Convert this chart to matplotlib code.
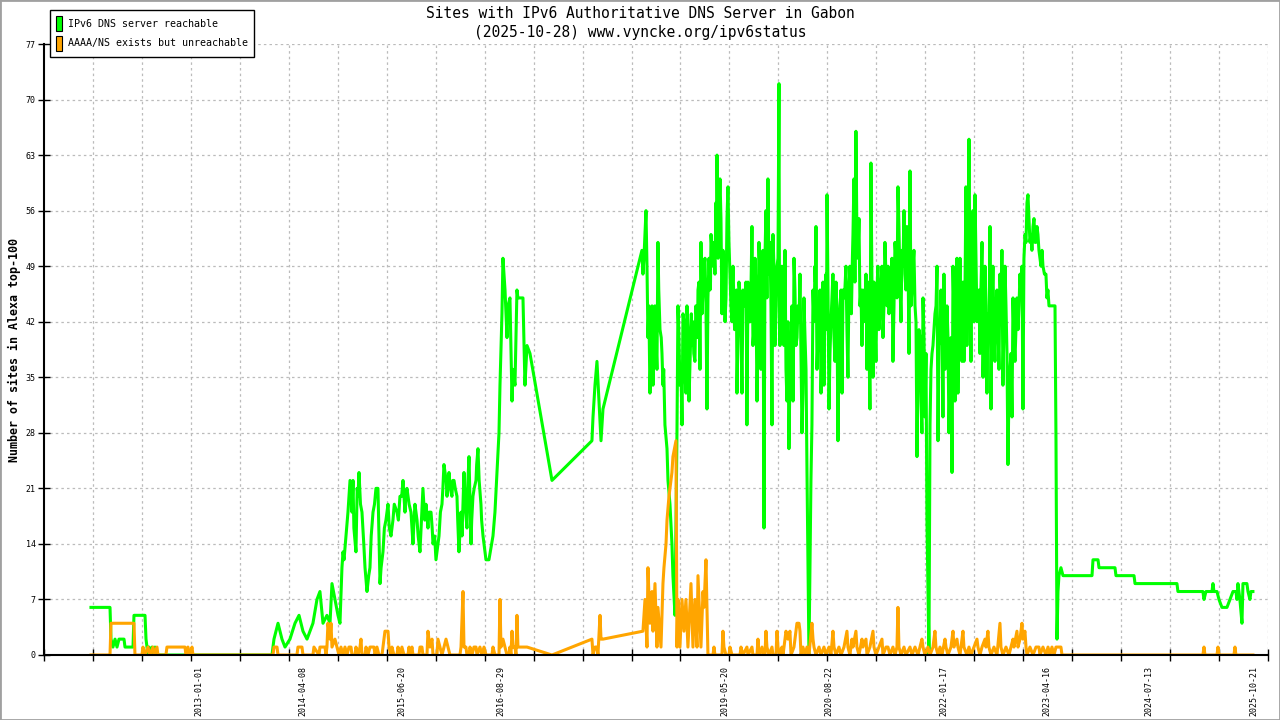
import datetime as dt
import numpy as np
import matplotlib
matplotlib.use('Agg')
from matplotlib import pyplot as plt
from matplotlib.patches import Patch, Rectangle

# (decimal year, number of sites)
green_2011_2017 = [
    (2011.689, 6), (2011.920, 6), (2011.932, 2), (2011.956, 1), (2011.981, 2), (2012.005, 1),
    (2012.029, 2), (2012.090, 2), (2012.102, 1), (2012.199, 1), (2012.211, 5), (2012.345, 5),
    (2012.357, 2), (2012.369, 1), (2012.381, 0), (2012.393, 1), (2012.417, 0), (2012.430, 1),
    (2012.454, 0), (2012.466, 1), (2012.478, 0), (2013.862, 0), (2013.886, 0), (2013.910, 2),
    (2013.959, 4), (2014.007, 2), (2014.044, 1), (2014.104, 2), (2014.165, 4), (2014.214, 5),
    (2014.262, 3), (2014.311, 2), (2014.347, 3), (2014.383, 4), (2014.432, 7), (2014.468, 8),
    (2014.505, 4), (2014.553, 5), (2014.590, 4), (2014.614, 9), (2014.650, 7), (2014.687, 5),
    (2014.711, 4), (2014.735, 11), (2014.748, 13), (2014.784, 15), (2014.808, 18), (2014.833, 22),
    (2014.857, 18), (2014.869, 22), (2014.905, 13), (2014.930, 20), (2014.942, 23), (2014.978, 18),
    (2015.015, 11), (2015.039, 8), (2015.075, 11), (2015.112, 18), (2015.148, 21), (2015.172, 21),
    (2015.197, 9), (2015.233, 13), (2015.269, 17), (2015.294, 19), (2015.330, 15), (2015.354, 17),
    (2015.403, 18), (2015.439, 20), (2015.476, 22), (2015.500, 18), (2015.524, 21), (2015.573, 18),
    (2015.597, 14), (2015.621, 19), (2015.646, 17), (2015.682, 13), (2015.718, 21), (2015.755, 19),
    (2015.779, 16), (2015.816, 18), (2015.840, 14), (2015.876, 12), (2015.913, 15), (2015.949, 19),
    (2015.973, 24), (2016.010, 20), (2016.034, 23), (2016.070, 20), (2016.095, 22), (2016.131, 20),
    (2016.155, 13), (2016.192, 15), (2016.216, 23), (2016.252, 16), (2016.277, 25), (2016.301, 14),
    (2016.325, 20), (2016.362, 22), (2016.386, 26), (2016.422, 19), (2016.447, 15), (2016.483, 12),
    (2016.519, 12), (2016.568, 15), (2016.592, 18), (2016.617, 23), (2016.641, 28), (2016.653, 34),
    (2016.677, 43), (2016.689, 50), (2016.714, 46), (2016.738, 40), (2016.750, 44), (2016.774, 45),
    (2016.799, 32), (2016.811, 36), (2016.835, 34), (2016.859, 46), (2016.871, 45), (2016.932, 45),
    (2016.956, 34), (2016.981, 39), (2017.017, 38), (2017.284, 22), (2017.769, 27), (2017.782, 30),
    (2017.806, 34), (2017.830, 37), (2017.854, 32), (2017.879, 27), (2017.903, 31),
]

# extra in-between readings for the busier 2014-2016 stretch
green_2014_2016_fill = [
    (2014.76, 12), (2014.82, 20), (2014.88, 16), (2014.92, 21), (2014.96, 19), (2015.00, 14),
    (2015.06, 10), (2015.09, 15), (2015.13, 19), (2015.21, 11), (2015.25, 16), (2015.31, 16),
    (2015.37, 19), (2015.42, 17), (2015.46, 20), (2015.51, 20), (2015.55, 19), (2015.61, 17),
    (2015.66, 15), (2015.70, 17), (2015.74, 17), (2015.79, 18), (2015.83, 16), (2015.86, 15),
    (2015.90, 14), (2015.93, 18), (2015.96, 21), (2016.00, 22), (2016.05, 21), (2016.08, 22),
    (2016.11, 21), (2016.14, 17), (2016.18, 18), (2016.23, 19), (2016.26, 21), (2016.29, 19),
    (2016.31, 17), (2016.34, 21), (2016.37, 24), (2016.40, 22), (2016.43, 17),
]

green_2018_2023 = [
    (2018.376, 51), (2018.388, 48), (2018.425, 56), (2018.437, 49), (2018.449, 40), (2018.473, 33),
    (2018.498, 44), (2018.510, 34), (2018.534, 44), (2018.558, 36), (2018.570, 52), (2018.595, 41),
    (2018.619, 38), (2018.631, 34), (2018.655, 29), (2018.680, 26), (2018.692, 22), (2018.716, 19),
    (2018.740, 14), (2018.752, 10), (2018.777, 5), (2018.801, 28), (2018.813, 44), (2018.837, 34),
    (2018.862, 29), (2018.874, 43), (2018.910, 33), (2018.922, 44), (2018.947, 32), (2018.983, 39),
    (2018.995, 42), (2019.019, 37), (2019.044, 42), (2019.056, 46), (2019.080, 36), (2019.092, 52),
    (2019.117, 46), (2019.141, 50), (2019.165, 31), (2019.177, 45), (2019.202, 46), (2019.214, 53),
    (2019.238, 49), (2019.250, 52), (2019.274, 57), (2019.287, 63), (2019.311, 56), (2019.323, 60),
    (2019.347, 43), (2019.359, 51), (2019.384, 42), (2019.408, 55), (2019.420, 59), (2019.444, 48),
    (2019.469, 42), (2019.481, 49), (2019.517, 44), (2019.529, 33), (2019.553, 47), (2019.590, 33),
    (2019.602, 46), (2019.638, 47), (2019.650, 29), (2019.675, 42), (2019.711, 54), (2019.723, 39),
    (2019.748, 50), (2019.772, 32), (2019.796, 52), (2019.820, 36), (2019.845, 51), (2019.857, 16),
    (2019.881, 56), (2019.905, 60), (2019.918, 48), (2019.954, 29), (2019.966, 53), (2019.990, 39),
    (2020.015, 49), (2020.039, 72), (2020.051, 39), (2020.075, 49), (2020.100, 39), (2020.112, 51),
    (2020.136, 32), (2020.160, 26), (2020.185, 38), (2020.209, 32), (2020.221, 50), (2020.245, 39),
    (2020.270, 44), (2020.294, 48), (2020.318, 28), (2020.330, 33), (2020.342, 45), (2020.367, 36),
    (2020.379, 23), (2020.403, 0), (2020.427, 22), (2020.439, 29), (2020.452, 46), (2020.476, 49),
    (2020.488, 54), (2020.500, 36), (2020.525, 44), (2020.549, 33), (2020.573, 47), (2020.585, 34),
    (2020.610, 48), (2020.622, 58), (2020.646, 31), (2020.670, 42), (2020.694, 48), (2020.719, 37),
    (2020.743, 43), (2020.755, 27), (2020.779, 44), (2020.804, 33), (2020.816, 46), (2020.852, 49),
    (2020.876, 35), (2020.900, 49), (2020.937, 53), (2020.949, 60), (2020.973, 66), (2020.985, 53),
    (2021.010, 55), (2021.022, 44), (2021.046, 39), (2021.058, 46), (2021.083, 43), (2021.107, 36),
    (2021.119, 47), (2021.143, 31), (2021.155, 62), (2021.180, 35), (2021.192, 47), (2021.216, 37),
    (2021.240, 49), (2021.265, 43), (2021.289, 49), (2021.301, 40), (2021.325, 52), (2021.350, 44),
    (2021.362, 49), (2021.386, 45), (2021.410, 50), (2021.422, 37), (2021.447, 52), (2021.471, 45),
    (2021.483, 59), (2021.495, 54), (2021.520, 42), (2021.544, 49), (2021.556, 56), (2021.580, 46),
    (2021.592, 54), (2021.617, 38), (2021.629, 61), (2021.653, 46), (2021.677, 51), (2021.702, 42),
    (2021.714, 25), (2021.738, 41), (2021.762, 32), (2021.774, 28), (2021.787, 45), (2021.811, 30),
    (2021.823, 38), (2021.835, 17), (2021.859, 0), (2021.872, 29), (2021.896, 38), (2021.908, 39),
    (2021.932, 43), (2021.957, 49), (2021.969, 27), (2021.981, 39), (2022.005, 46), (2022.029, 30),
    (2022.041, 48), (2022.066, 38), (2022.078, 44), (2022.102, 28), (2022.139, 23), (2022.151, 49),
    (2022.175, 32), (2022.199, 50), (2022.211, 33), (2022.236, 50), (2022.260, 37), (2022.272, 47),
    (2022.284, 37), (2022.308, 59), (2022.320, 39), (2022.345, 65), (2022.357, 47), (2022.369, 37),
    (2022.393, 56), (2022.405, 42), (2022.418, 58), (2022.442, 42), (2022.466, 46), (2022.478, 38),
    (2022.503, 52), (2022.515, 35), (2022.539, 49), (2022.563, 33), (2022.575, 43), (2022.600, 54),
    (2022.612, 31), (2022.636, 49), (2022.660, 37), (2022.685, 46), (2022.709, 36), (2022.721, 48),
    (2022.745, 51), (2022.757, 34), (2022.782, 49), (2022.806, 38), (2022.818, 24), (2022.842, 36),
    (2022.867, 30), (2022.879, 45), (2022.903, 37), (2022.927, 45), (2022.940, 41), (2022.964, 48),
    (2022.988, 49), (2023.000, 31), (2023.012, 50), (2023.037, 52), (2023.049, 57), (2023.061, 58),
    (2023.085, 52), (2023.109, 51), (2023.122, 54), (2023.146, 52), (2023.170, 54), (2023.194, 51),
    (2023.219, 49), (2023.243, 49), (2023.279, 48), (2023.291, 45), (2023.316, 44), (2023.389, 44),
    (2023.401, 27),
]

# extra in-between readings for the dense 2018-2023 band
green_2018_2023_fill = [
    (2018.400, 50), (2018.460, 44), (2018.485, 38), (2018.520, 42), (2018.545, 40), (2018.580, 46),
    (2018.610, 40), (2018.640, 36), (2018.825, 40), (2018.850, 36), (2018.887, 42), (2018.900, 35),
    (2018.935, 41), (2018.960, 37), (2018.975, 43), (2019.005, 38), (2019.030, 44), (2019.050, 40),
    (2019.068, 47), (2019.105, 43), (2019.129, 49), (2019.153, 44), (2019.190, 50), (2019.208, 47),
    (2019.226, 51), (2019.262, 48), (2019.280, 53), (2019.300, 50), (2019.335, 55), (2019.353, 47),
    (2019.372, 50), (2019.396, 45), (2019.432, 52), (2019.456, 44), (2019.475, 47), (2019.500, 41),
    (2019.523, 46), (2019.541, 40), (2019.571, 45), (2019.596, 39), (2019.620, 44), (2019.644, 40),
    (2019.663, 47), (2019.693, 42), (2019.717, 48), (2019.735, 41), (2019.760, 46), (2019.784, 40),
    (2019.808, 48), (2019.833, 42), (2019.869, 50), (2019.893, 45), (2019.930, 52), (2019.942, 44),
    (2019.978, 49), (2020.003, 43), (2020.027, 50), (2020.045, 44), (2020.063, 46), (2020.088, 41),
    (2020.106, 44), (2020.124, 36), (2020.148, 42), (2020.172, 35), (2020.197, 44), (2020.215, 38),
    (2020.233, 46), (2020.258, 40), (2020.282, 42), (2020.306, 38), (2020.355, 40), (2020.464, 42),
    (2020.482, 47), (2020.512, 40), (2020.537, 46), (2020.561, 39), (2020.597, 45), (2020.616, 41),
    (2020.634, 46), (2020.658, 38), (2020.682, 45), (2020.707, 40), (2020.731, 47), (2020.767, 39),
    (2020.792, 46), (2020.810, 40), (2020.834, 45), (2020.864, 41), (2020.888, 46), (2020.918, 43),
    (2020.930, 50), (2020.961, 47), (2020.997, 50), (2021.034, 46), (2021.070, 42), (2021.095, 48),
    (2021.131, 40), (2021.168, 46), (2021.204, 42), (2021.228, 46), (2021.252, 41), (2021.277, 47),
    (2021.313, 44), (2021.338, 48), (2021.374, 43), (2021.398, 47), (2021.435, 44), (2021.459, 50),
    (2021.507, 47), (2021.532, 51), (2021.568, 48), (2021.605, 50), (2021.641, 44), (2021.665, 49),
    (2021.690, 44), (2021.726, 36), (2021.750, 40), (2021.780, 34), (2021.799, 40), (2021.884, 36),
    (2021.920, 41), (2021.945, 44), (2021.993, 40), (2022.017, 42), (2022.054, 36), (2022.090, 40),
    (2022.115, 35), (2022.127, 40), (2022.163, 43), (2022.187, 40), (2022.224, 44), (2022.248, 42),
    (2022.296, 45), (2022.333, 50), (2022.381, 48), (2022.430, 50), (2022.454, 44), (2022.490, 46),
    (2022.527, 42), (2022.551, 44), (2022.587, 40), (2022.624, 44), (2022.648, 41), (2022.672, 44),
    (2022.697, 41), (2022.733, 44), (2022.770, 42), (2022.794, 44), (2022.830, 33), (2022.855, 38),
    (2022.891, 40), (2022.915, 41), (2022.952, 44), (2022.976, 45), (2023.025, 53), (2023.073, 55),
    (2023.097, 53), (2023.134, 55), (2023.158, 52), (2023.182, 53), (2023.206, 50), (2023.231, 51),
    (2023.261, 48), (2023.303, 46), (2023.350, 44),
]

green_2023_2025 = [
    (2023.413, 2), (2023.425, 8), (2023.437, 10), (2023.461, 11), (2023.486, 10), (2023.838, 10),
    (2023.850, 12), (2023.911, 12), (2023.923, 11), (2024.117, 11), (2024.129, 10), (2024.348, 10),
    (2024.360, 9), (2024.869, 9), (2024.881, 8), (2025.184, 8), (2025.197, 7), (2025.221, 8),
    (2025.294, 8), (2025.306, 9), (2025.318, 8), (2025.355, 8), (2025.379, 7), (2025.415, 6),
    (2025.476, 6), (2025.512, 7), (2025.549, 8), (2025.585, 8), (2025.597, 7), (2025.609, 9),
    (2025.633, 7), (2025.658, 4), (2025.670, 9), (2025.718, 9), (2025.731, 8), (2025.755, 7),
    (2025.767, 8), (2025.791, 8),
]

orange_2011_2017 = [
    (2011.689, 0), (2011.920, 0), (2011.932, 4), (2012.211, 4), (2012.223, 0), (2012.308, 0),
    (2012.320, 1), (2012.345, 0), (2012.381, 1), (2012.405, 0), (2012.442, 1), (2012.454, 0),
    (2012.490, 1), (2012.502, 0), (2012.599, 0), (2012.611, 1), (2012.830, 1), (2012.842, 0),
    (2012.866, 1), (2012.891, 0), (2012.915, 1), (2012.927, 0), (2013.898, 0), (2013.910, 1),
    (2013.947, 1), (2013.959, 0), (2014.189, 0), (2014.201, 1), (2014.250, 1), (2014.262, 0),
    (2014.383, 0), (2014.395, 1), (2014.456, 0), (2014.468, 1), (2014.529, 1), (2014.541, 0),
    (2014.553, 1), (2014.565, 4), (2014.590, 2), (2014.602, 4), (2014.614, 1), (2014.650, 2),
    (2014.675, 1), (2014.699, 0), (2014.723, 1), (2014.748, 0), (2014.772, 1), (2014.796, 0),
    (2014.820, 1), (2014.845, 1), (2014.857, 0), (2014.893, 0), (2014.905, 1), (2014.930, 0),
    (2014.954, 1), (2014.966, 2), (2014.978, 0), (2015.015, 0), (2015.027, 1), (2015.051, 0),
    (2015.075, 1), (2015.124, 1), (2015.136, 0), (2015.160, 1), (2015.184, 0), (2015.221, 0),
    (2015.233, 1), (2015.257, 3), (2015.294, 3), (2015.306, 1), (2015.330, 0), (2015.342, 1),
    (2015.366, 0), (2015.403, 0), (2015.415, 1), (2015.439, 0), (2015.463, 1), (2015.488, 0),
    (2015.536, 0), (2015.549, 1), (2015.561, 0), (2015.585, 1), (2015.597, 0), (2015.670, 0),
    (2015.682, 1), (2015.706, 1), (2015.718, 0), (2015.767, 0), (2015.779, 3), (2015.803, 1),
    (2015.828, 2), (2015.840, 0), (2015.888, 0), (2015.900, 2), (2015.925, 1), (2015.949, 0),
    (2015.973, 1), (2015.998, 2), (2016.022, 1), (2016.046, 0), (2016.167, 0), (2016.180, 1),
    (2016.204, 8), (2016.216, 1), (2016.240, 1), (2016.252, 0), (2016.277, 0), (2016.289, 1),
    (2016.313, 0), (2016.337, 1), (2016.362, 1), (2016.374, 0), (2016.410, 1), (2016.434, 0),
    (2016.459, 1), (2016.483, 0), (2016.556, 0), (2016.568, 1), (2016.592, 0), (2016.641, 0),
    (2016.653, 7), (2016.665, 1), (2016.689, 2), (2016.714, 1), (2016.738, 0), (2016.762, 0),
    (2016.774, 1), (2016.786, 0), (2016.799, 3), (2016.811, 1), (2016.835, 1), (2016.847, 0),
    (2016.859, 5), (2016.871, 1), (2016.981, 1), (2017.284, 0), (2017.769, 2), (2017.782, 0),
    (2017.806, 1), (2017.830, 1), (2017.842, 0), (2017.867, 5), (2017.879, 2), (2017.903, 2),
]

orange_2018_2023 = [
    (2018.388, 3), (2018.413, 7), (2018.437, 1), (2018.449, 11), (2018.473, 4), (2018.498, 8),
    (2018.510, 3), (2018.534, 9), (2018.558, 1), (2018.570, 6), (2018.607, 1), (2018.631, 9),
    (2018.643, 11), (2018.668, 14), (2018.680, 17), (2018.704, 20), (2018.740, 23), (2018.752, 25),
    (2018.789, 27), (2018.801, 1), (2018.813, 7), (2018.837, 1), (2018.862, 7), (2018.886, 3),
    (2018.910, 7), (2018.934, 1), (2018.971, 9), (2018.995, 1), (2019.019, 7), (2019.044, 1),
    (2019.056, 10), (2019.092, 1), (2019.117, 8), (2019.129, 6), (2019.153, 12), (2019.165, 6),
    (2019.177, 0), (2019.238, 0), (2019.250, 1), (2019.262, 0), (2019.347, 0), (2019.359, 3),
    (2019.371, 1), (2019.396, 0), (2019.432, 0), (2019.444, 1), (2019.469, 0), (2019.566, 0),
    (2019.578, 1), (2019.602, 0), (2019.650, 1), (2019.663, 0), (2019.711, 1), (2019.723, 0),
    (2019.772, 0), (2019.784, 2), (2019.796, 0), (2019.833, 1), (2019.845, 0), (2019.869, 0),
    (2019.881, 3), (2019.893, 1), (2019.918, 0), (2019.954, 1), (2019.966, 0), (2020.003, 0),
    (2020.015, 3), (2020.027, 1), (2020.051, 0), (2020.075, 1), (2020.088, 0), (2020.124, 3),
    (2020.148, 2), (2020.172, 3), (2020.185, 0), (2020.221, 1), (2020.257, 4), (2020.282, 4),
    (2020.294, 3), (2020.306, 0), (2020.330, 1), (2020.355, 0), (2020.379, 1), (2020.403, 0),
    (2020.439, 4), (2020.452, 2), (2020.464, 1), (2020.488, 0), (2020.525, 1), (2020.549, 0),
    (2020.585, 1), (2020.610, 0), (2020.646, 1), (2020.670, 0), (2020.694, 3), (2020.707, 1),
    (2020.731, 0), (2020.767, 1), (2020.792, 0), (2020.828, 1), (2020.864, 3), (2020.876, 1),
    (2020.900, 0), (2020.925, 2), (2020.937, 1), (2020.973, 3), (2020.985, 1), (2021.010, 0),
    (2021.046, 2), (2021.058, 1), (2021.095, 2), (2021.107, 0), (2021.143, 1), (2021.180, 3),
    (2021.192, 1), (2021.216, 0), (2021.252, 1), (2021.289, 2), (2021.301, 0), (2021.338, 1),
    (2021.362, 1), (2021.386, 0), (2021.422, 1), (2021.447, 0), (2021.471, 1), (2021.483, 6),
    (2021.495, 1), (2021.520, 0), (2021.556, 1), (2021.580, 0), (2021.629, 1), (2021.653, 0),
    (2021.690, 1), (2021.726, 0), (2021.750, 1), (2021.774, 2), (2021.787, 1), (2021.811, 0),
    (2021.847, 1), (2021.872, 0), (2021.908, 1), (2021.932, 3), (2021.944, 1), (2021.969, 0),
    (2021.993, 1), (2022.017, 0), (2022.054, 2), (2022.066, 1), (2022.090, 0), (2022.126, 1),
    (2022.151, 3), (2022.163, 1), (2022.199, 2), (2022.211, 1), (2022.236, 0), (2022.272, 3),
    (2022.284, 1), (2022.320, 0), (2022.345, 1), (2022.369, 0), (2022.405, 1), (2022.442, 2),
    (2022.454, 1), (2022.478, 0), (2022.503, 1), (2022.539, 2), (2022.551, 1), (2022.575, 3),
    (2022.587, 1), (2022.612, 0), (2022.648, 1), (2022.685, 0), (2022.721, 4), (2022.733, 1),
    (2022.757, 0), (2022.794, 1), (2022.830, 0), (2022.854, 1), (2022.879, 2), (2022.891, 1),
    (2022.927, 3), (2022.940, 1), (2022.964, 2), (2022.988, 4), (2023.000, 2), (2023.024, 3),
    (2023.037, 1), (2023.049, 0), (2023.085, 1), (2023.122, 0), (2023.158, 1), (2023.194, 1),
    (2023.206, 0), (2023.243, 1), (2023.279, 0), (2023.304, 1), (2023.328, 0), (2023.352, 1),
    (2023.377, 0), (2023.401, 1),
]

orange_2023_2025 = [
    (2023.461, 1), (2023.474, 0), (2025.184, 0), (2025.197, 1), (2025.209, 0), (2025.355, 0),
    (2025.367, 1), (2025.379, 0), (2025.561, 0), (2025.573, 1), (2025.585, 0), (2025.791, 0),
]

date_labels = ['2013-01-01', '2014-04-08', '2015-06-20', '2016-08-29', '2019-05-20',
               '2020-08-22', '2022-01-17', '2023-04-16', '2024-07-13', '2025-10-21']
y_ticks = list(range(0, 78, 7))

GREEN = '#00ff00'
ORANGE = '#ffa500'
GRID = '#bbbbbb'


def decimal_year(s):
    d = dt.date.fromisoformat(s)
    return d.year + (d - dt.date(d.year, 1, 1)).days / 365.25


def series(*parts):
    pts = sorted(p for part in parts for p in part)
    return np.array([p[0] for p in pts]), np.array([p[1] for p in pts])


gx, gy = series(green_2011_2017, green_2014_2016_fill, green_2018_2023,
                green_2018_2023_fill, green_2023_2025)
ox, oy = series(orange_2011_2017, orange_2018_2023, orange_2023_2025)

plt.rcParams['font.family'] = 'DejaVu Sans Mono'
fig = plt.figure(figsize=(12.8, 7.2), dpi=100)
ax = fig.add_axes([44 / 1280, 65 / 720, 1224 / 1280, 611 / 720])

ax.plot(gx, gy, color=GREEN, lw=2.2)
ax.plot(ox, oy, color=ORANGE, lw=2.2)

x0, x1 = 2011.119, 2025.973
ax.set_xlim(x0, x1)
ax.set_ylim(0, 77)

# grid ticks every ~218 days, date labels sit on their own
grid_x = np.arange(x0, x1 + 0.01, 0.5942)
ax.set_xticks(grid_x, minor=True)
ax.set_xticks([decimal_year(s) for s in date_labels])
ax.set_xticklabels(date_labels, rotation=90, fontsize=6)
ax.tick_params(axis='x', which='major', length=0, pad=8)
ax.tick_params(axis='x', which='minor', direction='inout', length=8, width=1)
ax.set_yticks(y_ticks)
ax.set_yticklabels([str(v) for v in y_ticks], fontsize=6)
ax.tick_params(axis='y', direction='inout', length=8, width=1, pad=2)

for v in y_ticks[1:]:
    ax.axhline(v, color=GRID, lw=0.9, ls=(0, (2, 2.5)), zorder=0)
for v in grid_x[1:]:
    ax.axvline(v, color=GRID, lw=0.9, ls=(0, (2, 2.5)), zorder=0)

for s in ['top', 'right']:
    ax.spines[s].set_visible(False)
for s in ['left', 'bottom']:
    ax.spines[s].set_linewidth(1.5)

ax.set_ylabel('Number of sites in Alexa top-100', fontsize=8.4, fontweight='bold')
ax.yaxis.set_label_coords(-0.019, 0.5)

fig.text(0.5, 1 - 13 / 720, 'Sites with IPv6 Authoritative DNS Server in Gabon',
         ha='center', va='center', fontsize=10.5)
fig.text(0.5, 1 - 32 / 720, '(2025-10-28) www.vyncke.org/ipv6status',
         ha='center', va='center', fontsize=10.5)

handles = [Patch(facecolor=GREEN, edgecolor='black', lw=0.8),
           Patch(facecolor=ORANGE, edgecolor='black', lw=0.8)]
leg = ax.legend(handles, ['IPv6 DNS server reachable', 'AAAA/NS exists but unreachable'],
                loc='upper left', bbox_to_anchor=(50 / 1280, 1 - 10 / 720),
                bbox_transform=fig.transFigure, fontsize=7.2, handlelength=0.6,
                handleheight=1.9, handletextpad=0.6, labelspacing=0.5,
                borderpad=0.6, borderaxespad=0, fancybox=False, framealpha=1)
leg.get_frame().set_edgecolor('black')
leg.get_frame().set_linewidth(1)

fig.add_artist(Rectangle((0, 0), 1, 1, transform=fig.transFigure, fill=False,
                         edgecolor='#a0a0a0', lw=2))

fig.savefig('out.png', dpi=100)
